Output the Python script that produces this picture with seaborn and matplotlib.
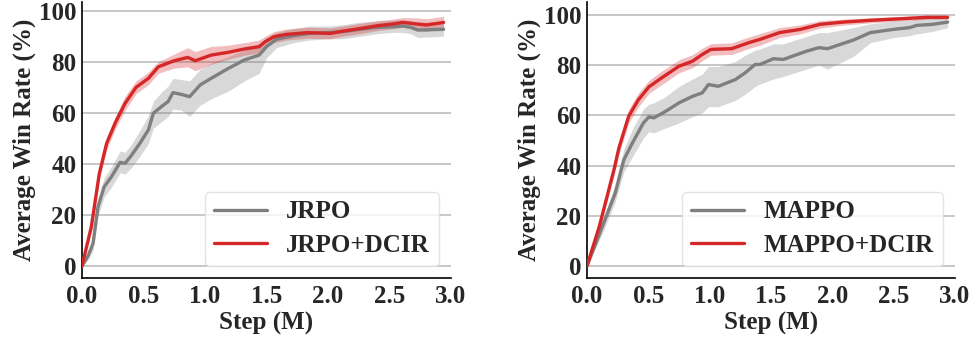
import numpy as np
import pandas as pd
import matplotlib
matplotlib.use("Agg")
import matplotlib.pyplot as plt
import seaborn as sns

# ---------------- data ----------------
# Left panel: JRPO vs JRPO+DCIR
jrpo_x = [0, 0.05, 0.09, 0.13, 0.18, 0.24, 0.31, 0.35, 0.40, 0.47, 0.54, 0.58, 0.645, 0.70, 0.74,
          0.81, 0.875, 0.96, 1.05, 1.19, 1.32, 1.44, 1.50, 1.58, 1.72, 1.85, 2.02, 2.12, 2.26,
          2.40, 2.53, 2.61, 2.67, 2.73, 2.94]
jrpo_y = [0, 4, 8.9, 23.2, 31, 35, 40.6, 40.2, 43.2, 48, 53.3, 59.8, 62.4, 64.4, 67.9,
          67.2, 66.3, 70.9, 73.5, 77.4, 80.7, 82.6, 85.9, 88.8, 90.2, 91.1, 91.5, 91.8, 92.7,
          93.5, 93.7, 94, 93.5, 92.4, 92.7]
jrpo_lo = [0, 2.5, 6, 19.5, 27, 31, 36.5, 36, 38.5, 43, 48, 54, 56.5, 58.5, 61.5,
           61, 58.5, 63, 65.5, 68.5, 72.5, 75.5, 81.5, 85.5, 87.5, 88.5, 89, 89, 90,
           91, 91.5, 91.5, 91, 89.5, 90]
jrpo_hi = [0, 5.5, 11.5, 26.5, 34.5, 39, 45, 44.5, 47.5, 53, 59, 64.5, 68, 70.5, 73.5,
           73, 72.5, 77, 79.5, 82, 84.5, 86.5, 89.5, 91.5, 93, 94, 94, 94.5, 95.5,
           96, 96.3, 96.5, 96, 95.5, 95.5]

jdcir_x = [0, 0.076, 0.14, 0.2, 0.27, 0.35, 0.44, 0.54, 0.62, 0.75, 0.86, 0.92, 1.05, 1.19,
           1.32, 1.44, 1.49, 1.56, 1.66, 1.83, 2.02, 2.12, 2.26, 2.40, 2.53, 2.61, 2.72, 2.80, 2.94]
jdcir_y = [0, 15.4, 36, 48, 56, 63.7, 70, 73.5, 78, 80.4, 81.7, 80.4, 82.6, 83.7,
           85, 85.9, 87.9, 89.8, 90.7, 91.4, 91.1, 92, 93, 94.1, 94.8, 95.4, 94.8, 94.4, 95.4]
jdcir_lo = [0, 13.5, 33.5, 45.5, 53.5, 61, 67.5, 71, 75.5, 77.5, 78, 76.5, 79, 81,
            82.5, 83.5, 85.5, 87.5, 88.5, 89.2, 89, 90, 91, 92.2, 93, 93.5, 92.5, 92, 93]
jdcir_hi = [0, 17, 38.5, 50.5, 58.5, 66.5, 72.5, 76, 80, 83, 85.5, 84, 86, 86.5,
            87.5, 88.5, 90, 91.8, 92.8, 93.5, 93.3, 94, 95, 96, 96.7, 97.3, 97.2, 96.8, 97.8]

# Right panel: MAPPO vs MAPPO+DCIR
mappo_x = [0, 0.125, 0.23, 0.30, 0.37, 0.46, 0.505, 0.545, 0.64, 0.75, 0.86, 0.94, 0.99, 1.07,
           1.21, 1.29, 1.37, 1.41, 1.52, 1.60, 1.79, 1.89, 1.96, 2.17, 2.31, 2.50, 2.63, 2.69,
           2.82, 2.94]
mappo_y = [0, 15.7, 29, 42.3, 49, 57, 59.4, 59, 61.6, 65, 67.6, 69, 72.3, 71.6,
           74.3, 77, 80.3, 80.3, 82.6, 82.3, 85.6, 87, 86.6, 90, 93, 94.3, 95, 95.9,
           96.3, 97.2]
mappo_lo = [0, 13, 25.5, 37.5, 43.5, 51, 53.5, 53, 55, 57, 59.5, 61, 63.5, 63.5,
            66, 68.5, 71.5, 72.5, 74.5, 75.5, 78.5, 80, 78.5, 83.5, 89, 91, 91.8, 92.5,
            93.5, 95]
mappo_hi = [0, 18, 32.5, 46.5, 54.5, 62.5, 64.5, 65, 67.5, 71.5, 74.5, 76.5, 79.5, 79.5,
            81.5, 84, 86, 86.5, 88.5, 88.5, 91.5, 93, 93, 95, 96.5, 97.5, 97.8, 98.5,
            98.8, 99.2]

mdcir_x = [0, 0.10, 0.22, 0.26, 0.34, 0.42, 0.505, 0.61, 0.75, 0.86, 0.94, 1.01, 1.18, 1.32,
           1.41, 1.57, 1.74, 1.90, 2.09, 2.31, 2.55, 2.77, 2.94]
mdcir_y = [0, 15.7, 38.4, 47, 59.7, 66.3, 71.4, 75, 79.6, 81.6, 84.3, 86.3, 86.6, 89,
           90.3, 93, 94.3, 96.3, 97.2, 97.9, 98.5, 99.1, 99.1]
mdcir_lo = [0, 14, 36, 44.5, 57, 63.5, 68.8, 72.3, 77, 79, 81.8, 84, 84.3, 86.7,
            88, 91, 92.5, 94.8, 96, 96.9, 97.6, 98.3, 98.4]
mdcir_hi = [0, 17.5, 40.8, 49.5, 62.5, 69, 74, 77.7, 82.2, 84.2, 86.8, 88.6, 88.9, 91.3,
            92.6, 95, 96.1, 97.8, 98.4, 98.9, 99.4, 99.9, 99.8]

xticks = [0.0, 0.5, 1.0, 1.5, 2.0, 2.5, 3.0]
yticks = [0, 20, 40, 60, 80, 100]
xlabel = "Step (M)"
ylabel = "Average Win Rate (%)"

GRAY = "#7f7f7f"
RED = "#d62728"

# ---------------- style ----------------
sns.set_style("white")
plt.rcParams["font.family"] = ["Liberation Serif", "DejaVu Serif"]
plt.rcParams["font.weight"] = "bold"
plt.rcParams["axes.labelweight"] = "bold"

fig = plt.figure(figsize=(9.72, 3.39), dpi=100)
W, H = 972, 339
ax1 = fig.add_axes([82 / W, (H - 278) / H, (451 - 82) / W, (278 - 2) / H])
ax2 = fig.add_axes([587 / W, (H - 278) / H, (955 - 587) / W, (278 - 2) / H])

panels = [
    (ax1, [("JRPO", jrpo_x, jrpo_y, jrpo_lo, jrpo_hi, GRAY),
           ("JRPO+DCIR", jdcir_x, jdcir_y, jdcir_lo, jdcir_hi, RED)], (-4.7, 103.4)),
    (ax2, [("MAPPO", mappo_x, mappo_y, mappo_lo, mappo_hi, GRAY),
           ("MAPPO+DCIR", mdcir_x, mdcir_y, mdcir_lo, mdcir_hi, RED)], (-4.8, 105.2)),
]

for ax, series, ylim in panels:
    for name, xs, ys, lo, hi, col in series:
        ax.fill_between(xs, lo, hi, color=col, alpha=0.3, linewidth=0, zorder=2)
        df = pd.DataFrame({"x": xs, "y": ys})
        sns.lineplot(data=df, x="x", y="y", ax=ax, color=col, linewidth=2.4,
                     label=name, zorder=3)
    ax.set_xlim(0, 3.0)
    ax.set_ylim(*ylim)
    ax.set_xticks(xticks)
    ax.set_xticklabels([f"{t:.1f}" for t in xticks])
    ax.set_yticks(yticks)
    ax.yaxis.grid(True, color="#bdbdbd", linewidth=1.2, zorder=0)
    ax.xaxis.grid(False)
    ax.set_axisbelow(True)
    for s in ["top", "right"]:
        ax.spines[s].set_visible(False)
    for s in ["left", "bottom"]:
        ax.spines[s].set_color("black")
        ax.spines[s].set_linewidth(1.2)
    ax.tick_params(axis="both", direction="in", length=4, width=1.0, color="black",
                   labelsize=18)
    ax.tick_params(axis="x", pad=5)
    ax.tick_params(axis="y", pad=4)
    for lbl in ax.get_xticklabels() + ax.get_yticklabels():
        lbl.set_fontweight("bold")
    ax.set_xlabel(xlabel, fontsize=18, fontweight="bold", labelpad=3)
    ax.set_ylabel(ylabel, fontsize=18, fontweight="bold", labelpad=2)
    leg = ax.legend(loc="lower right", fontsize=18, handlelength=2.12, handletextpad=0.76,
                    labelspacing=0.4, borderaxespad=0.5, borderpad=0.36,
                    frameon=True, fancybox=True,
                    framealpha=0.8, edgecolor="#dddddd",
                    prop={"weight": "bold", "size": 18})
    for line in leg.get_lines():
        line.set_linewidth(2.4)

fig.savefig("out.png", dpi=100)
